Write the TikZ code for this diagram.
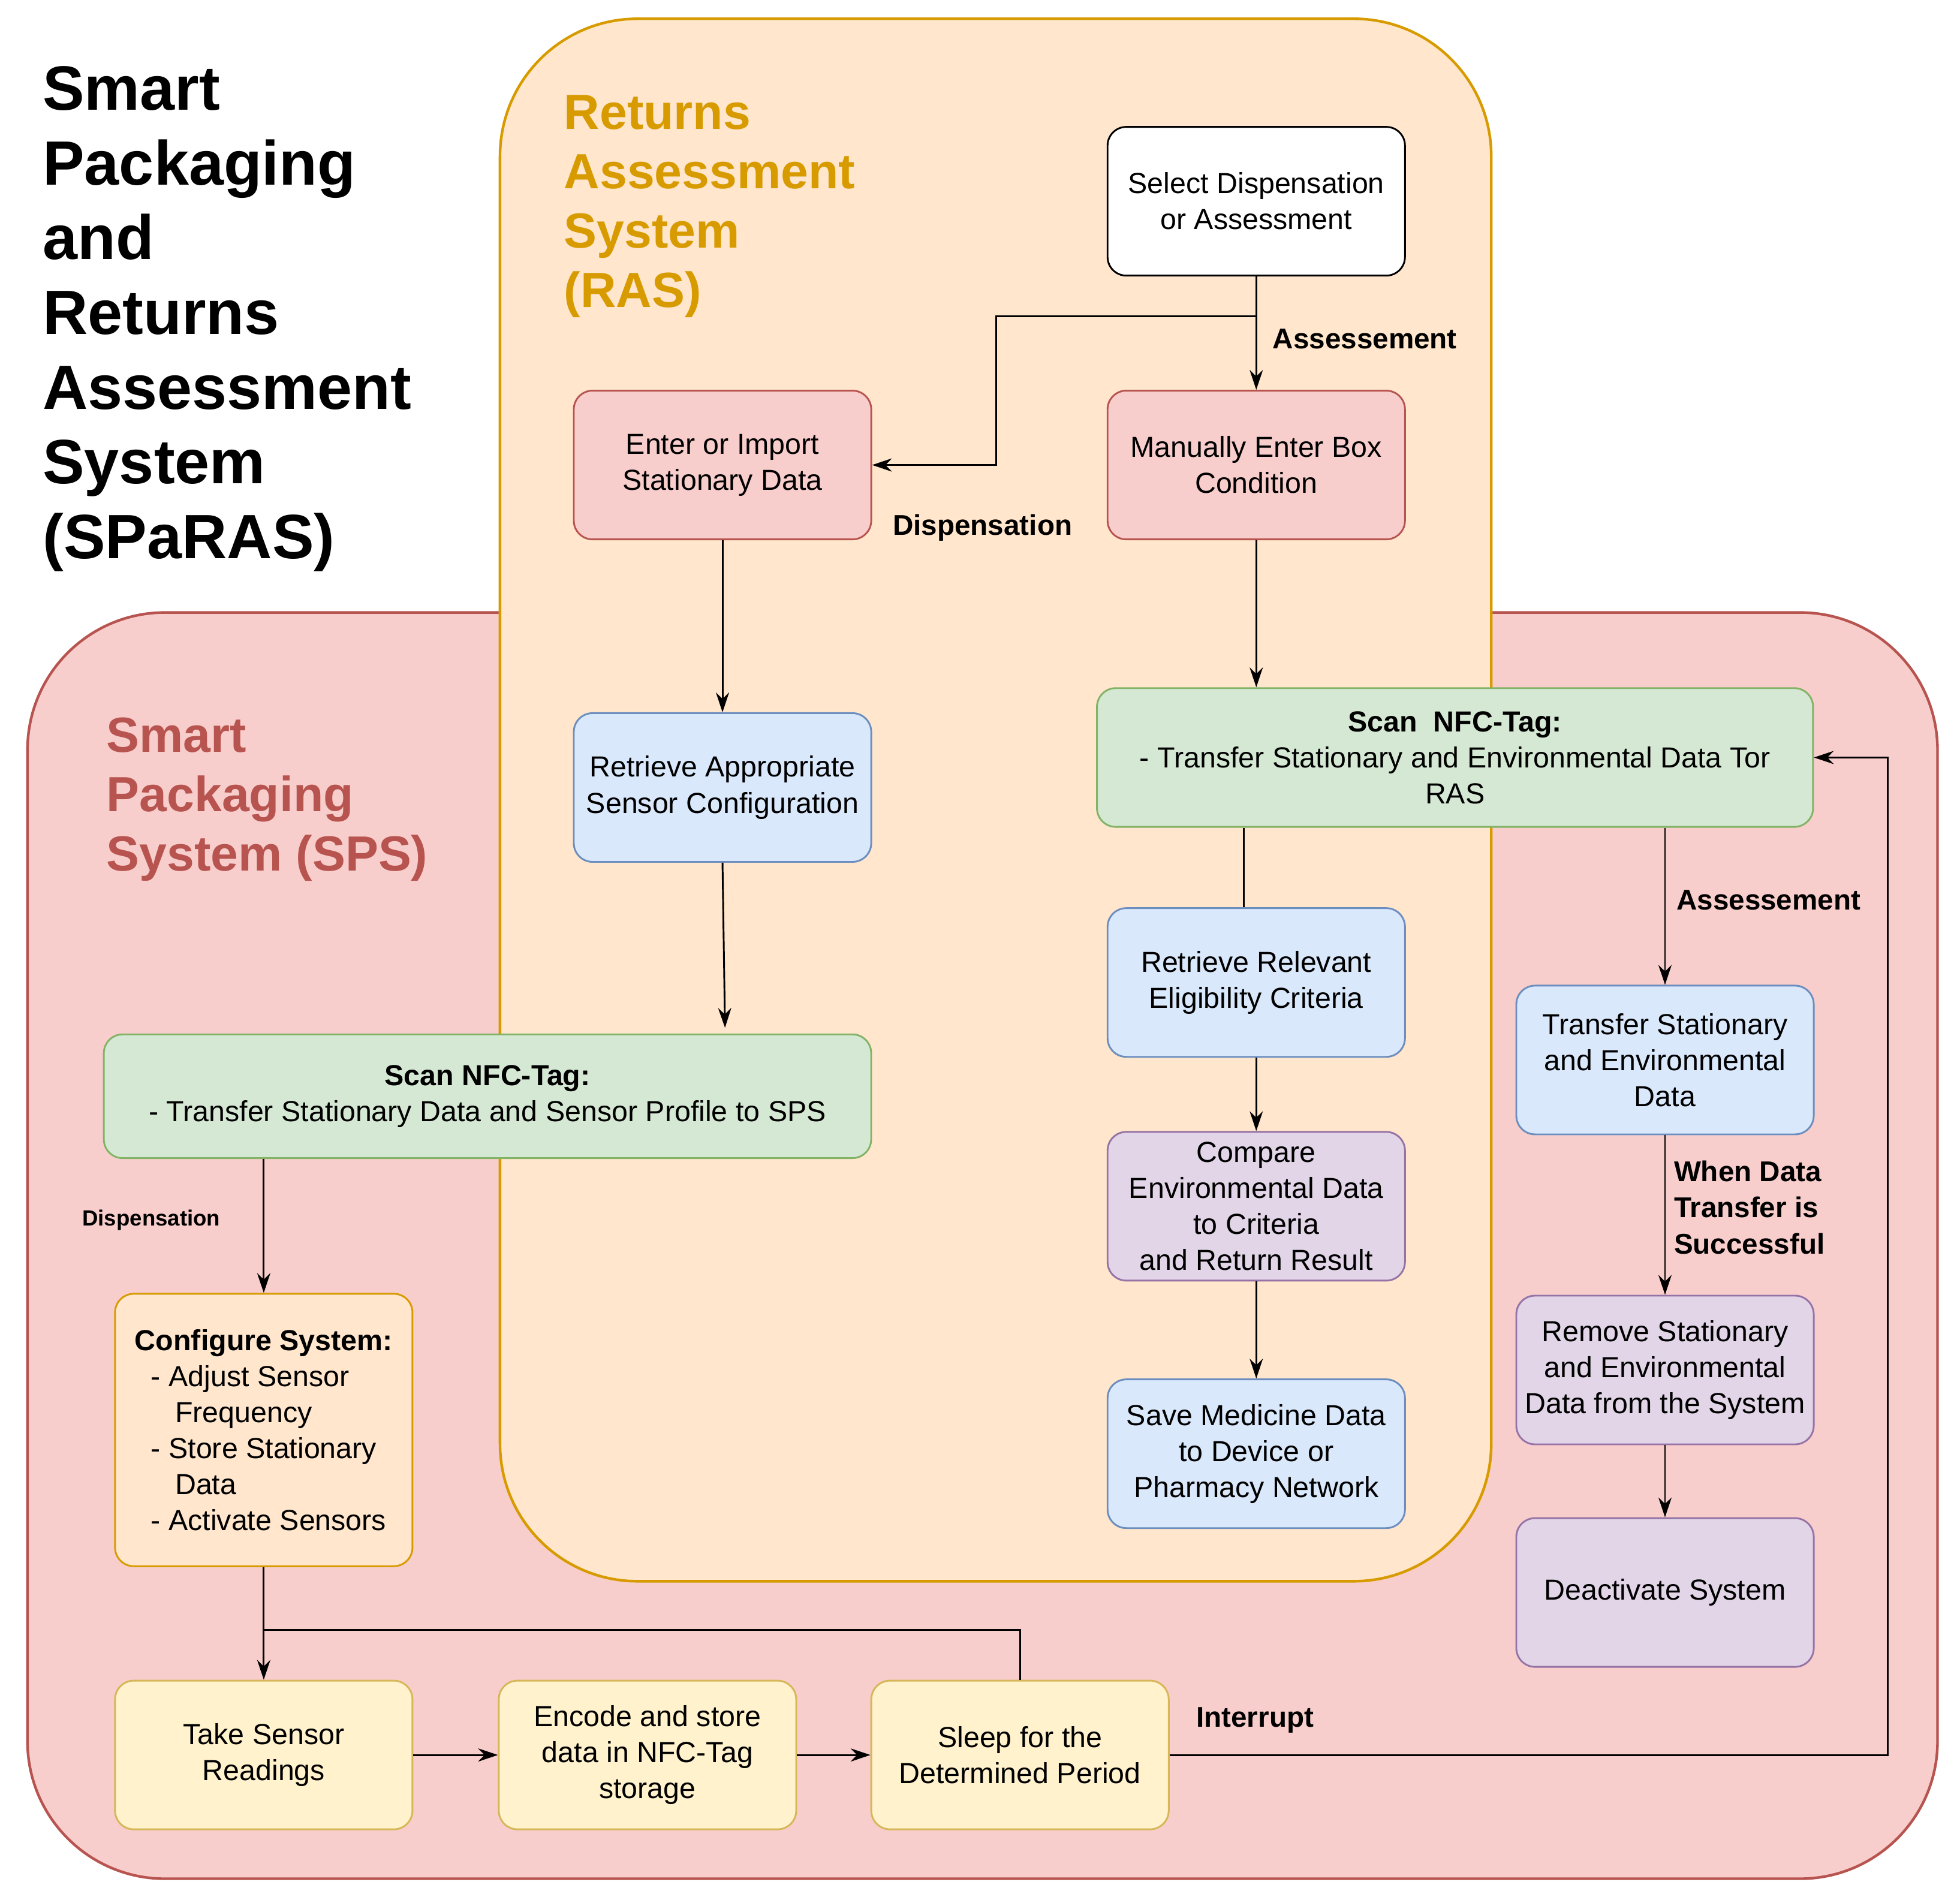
\documentclass[tikz,border=0pt]{standalone}
\usepackage{fontspec}
\setmainfont{Liberation Sans}
\usetikzlibrary{arrows.meta}
\definecolor{redF}{HTML}{F8CECC}\definecolor{redD}{HTML}{B85450}
\definecolor{orgF}{HTML}{FFE6CC}\definecolor{orgD}{HTML}{D79B00}
\definecolor{grnF}{HTML}{D5E8D4}\definecolor{grnD}{HTML}{82B366}
\definecolor{bluF}{HTML}{DAE8FC}\definecolor{bluD}{HTML}{6C8EBF}
\definecolor{purF}{HTML}{E1D5E7}\definecolor{purD}{HTML}{9673A6}
\definecolor{yelF}{HTML}{FFF2CC}\definecolor{yelD}{HTML}{D6B656}
\begin{document}
\begin{tikzpicture}[x=0.02cm,y=-0.02cm,>={Stealth[length=9pt,width=6pt]}]
  \tikzstyle{box} = [draw, thick, rounded corners=0.3cm, align=center, minimum width=4.76cm, minimum height=2.38cm, inner sep=2pt, font={\fontsize{13.2}{16.4}\selectfont}]
  \tikzstyle{redbox} = [box, fill=redF, draw=redD]
  \tikzstyle{grnbox} = [box, fill=grnF, draw=grnD]
  \tikzstyle{blubox} = [box, fill=bluF, draw=bluD]
  \tikzstyle{purbox} = [box, fill=purF, draw=purD]
  \tikzstyle{yelbox} = [box, fill=yelF, draw=yelD]
  \tikzstyle{flow} = [black, thick, ->]
  \tikzstyle{edgeLabel} = [font={\fontsize{13}{16.4}\selectfont\bfseries}, align=left]
  \tikzstyle{region} = [line width=1.2pt, rounded corners=2.2cm]

  \useasboundingbox (0,0) rectangle (1568,1522);
  % regions
  \draw[region, fill=redF, draw=redD] (22,490) rectangle (1550,1503);
  \draw[region, fill=orgF, draw=orgD] (400,15) rectangle (1193,1265);
  \node[anchor=north west, align=left, font={\fontsize{28.5}{34}\selectfont\bfseries}] (title) at (28,47) {Smart\\Packaging\\and\\Returns\\Assessment\\System\\(SPaRAS)};
  \node[anchor=north west, align=left, text=orgD, font={\fontsize{22.5}{27}\selectfont\bfseries}] (ras) at (445,70) {Returns\\Assessment\\System\\(RAS)};
  \node[anchor=north west, align=left, text=redD, font={\fontsize{22.5}{27}\selectfont\bfseries}] (sps) at (79,568) {Smart\\Packaging\\System (SPS)};

  % nodes
  \node[box, fill=white] (select) at (1005,161) {Select Dispensation\\or Assessment};
  \node[redbox] (enter) at (578,372) {Enter or Import\\Stationary Data};
  \node[redbox] (manual) at (1005,372) {Manually Enter Box\\Condition};
  \node[blubox] (sensor) at (578,630) {Retrieve Appropriate\\Sensor Configuration};
  \node[grnbox, minimum width=12.28cm, minimum height=1.98cm] (scanS) at (390,877) {\textbf{Scan NFC-Tag:}\\- Transfer Stationary Data and Sensor Profile to SPS};
  \node[grnbox, minimum width=11.46cm, minimum height=2.22cm] (scanR) at (1164,606) {\textbf{Scan\ \ NFC-Tag:}\\- Transfer Stationary and Environmental Data Tor\\RAS};
  \node[blubox] (criteria) at (1005,786) {Retrieve Relevant\\Eligibility Criteria};
  \node[purbox] (compare) at (1005,965) {Compare\\Environmental Data\\to Criteria\\and Return Result};
  \node[blubox] (save) at (1005,1163) {Save Medicine Data\\to Device or\\Pharmacy Network};
  \node[blubox] (transfer) at (1332,848) {Transfer Stationary\\and Environmental\\Data};
  \node[purbox] (remove) at (1332,1096) {Remove Stationary\\and Environmental\\Data from the System};
  \node[purbox] (deact) at (1332,1274) {Deactivate System};
  \node[box, fill=orgF, draw=orgD, minimum height=4.36cm, align=left] (config) at (211,1144) {\textbf{Configure System:}\\
    \ \ - Adjust Sensor\\ \ \ \ \ \ Frequency\\ \ \ - Store Stationary\\ \ \ \ \ \ Data\\ \ \ - Activate Sensors};
  \node[yelbox] (take) at (211,1404) {Take Sensor\\Readings};
  \node[yelbox] (encode) at (518,1404) {Encode and store\\data in NFC-Tag\\storage};
  \node[yelbox] (sleep) at (816,1404) {Sleep for the\\Determined Period};

  % connectors
  \draw[flow] (select) -- (manual);
  \node[edgeLabel, anchor=west] (lblA) at (1012,271) {Assessement};
  \draw[flow] (select.south) -- ++(0,32) -| (797,372) -- (enter.east);
  \node[edgeLabel] (lblD) at (786,422) {Dispensation};
  \draw[flow] (enter) -- (sensor);
  \draw[flow] (manual) -- (manual.south |- scanR.north);
  \draw[flow] (sensor.south) -- ++(2,132);
  \draw[thick] (scanR.south -| 995,0) -- (criteria.north -| 995,0);
  \draw[flow] (criteria) -- (compare);
  \draw[flow] (compare) -- (save);
  \draw[flow] (scanR.south -| transfer) -- (transfer);
  \node[edgeLabel, anchor=west] (lblA2) at (1335,720) {Assessement};
  \draw[flow] (transfer) -- (remove);
  \node[edgeLabel, anchor=west] (lblW) at (1333,966) {When Data\\Transfer is\\Successful};
  \draw[flow] (remove) -- (deact);
  \draw[flow] (scanS.south -| config) -- (config);
  \node[font={\fontsize{10}{12}\selectfont\bfseries}] (lblD2) at (121,976) {Dispensation};
  \draw[flow] (config) -- (take);
  \draw[thick] (211,1304) -| (sleep.north);
  \draw[flow] (take) -- (encode);
  \draw[flow] (encode) -- (sleep);
  \draw[flow] (sleep.east) -- (1510,1404) |- (scanR.east);
  \node[edgeLabel] (lblI) at (1004,1376) {Interrupt};
\end{tikzpicture}
\end{document}
